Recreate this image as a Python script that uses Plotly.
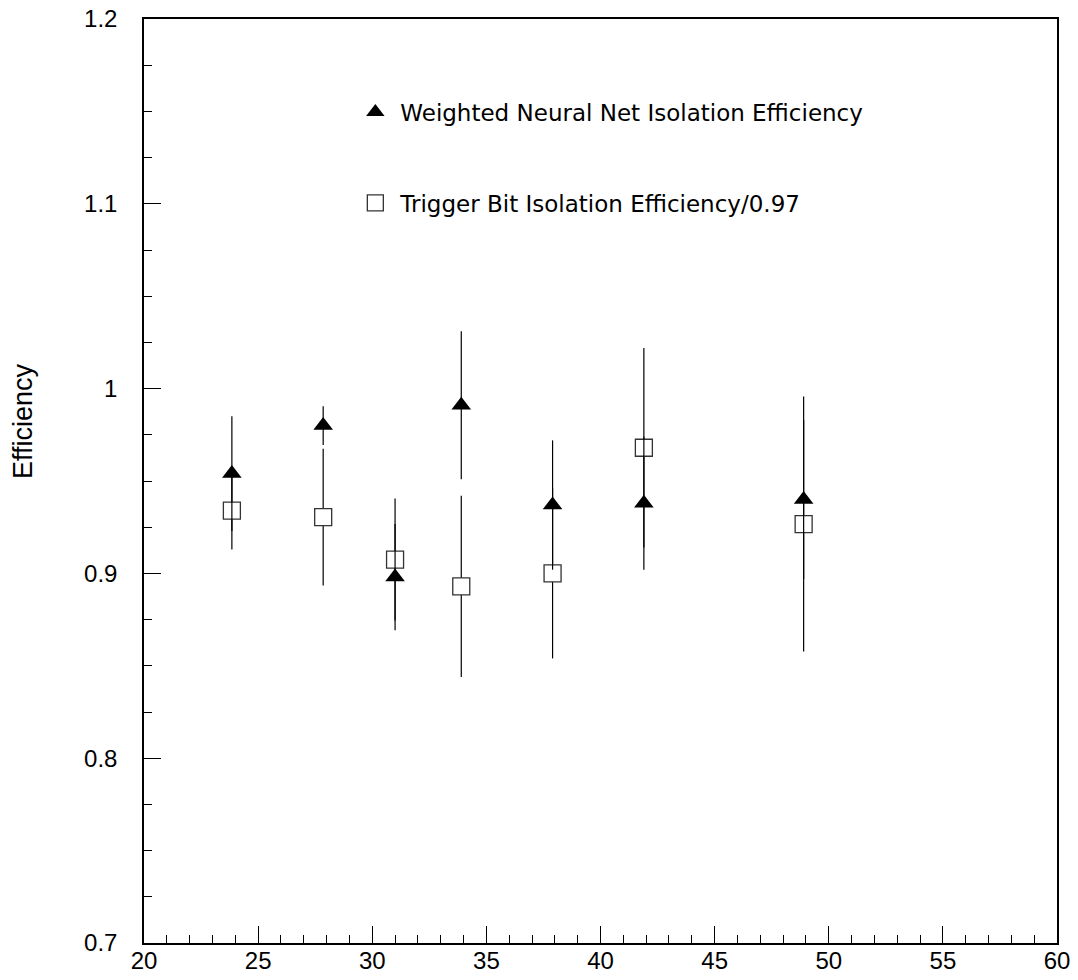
import plotly.graph_objects as go

# ---- data ----
pt = [23.85, 27.85, 31.0, 33.9, 37.9, 41.9, 48.9]

nn_eff = [0.954, 0.980, 0.898, 0.991, 0.937, 0.938, 0.940]
nn_err = [0.031, 0.0105, 0.0287, 0.040, 0.035, 0.036, 0.043]

trig_eff = [0.934, 0.9305, 0.9075, 0.893, 0.900, 0.968, 0.9267]
trig_err = [0.021, 0.037, 0.033, 0.049, 0.046, 0.054, 0.069]

nn_label = "Weighted Neural Net Isolation Efficiency"
trig_label = "Trigger Bit Isolation Efficiency/0.97"

x_tickvals = [20, 25, 30, 35, 40, 45, 50, 55, 60]
x_ticktext = ["20", "25", "30", "35", "40", "45", "50", "55", "60"]
y_tickvals = [0.7, 0.8, 0.9, 1.0, 1.1, 1.2]
y_ticktext = ["0.7", "0.8", "0.9", "1", "1.1", "1.2"]
y_title = "Efficiency"

fig = go.Figure()

# open squares (drawn first, white fill hides their own error line)
fig.add_trace(go.Scatter(
    x=pt, y=trig_eff, mode="markers", name=trig_label,
    legendgroup="b", legendrank=2,
    marker=dict(symbol="square", size=17, color="white",
                line=dict(color="#333333", width=1.3)),
    error_y=dict(type="data", array=trig_err, visible=True,
                 width=0, thickness=1.2, color="black"),
))

# filled triangles
fig.add_trace(go.Scatter(
    x=pt, y=nn_eff, mode="markers", name=nn_label,
    legendgroup="a", legendrank=1,
    marker=dict(symbol="triangle-up", size=17, color="black",
                line=dict(color="black", width=0)),
    error_y=dict(type="data", array=nn_err, visible=True,
                 width=0, thickness=1.2, color="black"),
))

tickfont = dict(family="Liberation Sans, Arial, sans-serif", size=24, color="black")

fig.update_xaxes(
    range=[20, 60], tickmode="array", tickvals=x_tickvals, ticktext=x_ticktext,
    ticks="inside", ticklen=17, tickwidth=1, tickcolor="black",
    minor=dict(dtick=1, tick0=20, ticks="inside", ticklen=8, tickwidth=1, tickcolor="black"),
    showline=True, linecolor="black", linewidth=1.5, mirror=True,
    showgrid=False, zeroline=False, tickfont=tickfont, automargin=False,
    ticklabelstandoff=-5,
)
fig.update_yaxes(
    range=[0.7, 1.2], tickmode="array", tickvals=y_tickvals, ticktext=y_ticktext,
    ticks="inside", ticklen=17, tickwidth=1, tickcolor="black",
    minor=dict(dtick=0.025, tick0=0.7, ticks="inside", ticklen=8, tickwidth=1, tickcolor="black"),
    showline=True, linecolor="black", linewidth=1.5, mirror=True,
    showgrid=False, zeroline=False, tickfont=tickfont, automargin=False,
    ticklabelstandoff=20,
)

fig.add_annotation(
    text=y_title, xref="paper", yref="paper", x=-0.1325, y=0.565,
    xanchor="center", yanchor="middle", textangle=-90, showarrow=False,
    font=dict(family="Liberation Sans, Arial, sans-serif", size=27, color="black"),
)

fig.update_layout(
    template="none",
    width=1078, height=980,
    margin=dict(l=144, r=21, t=19, b=37, autoexpand=False),
    paper_bgcolor="white", plot_bgcolor="white",
    showlegend=True,
    legend=dict(
        x=0.226, y=0.9225, xanchor="left", yanchor="top",
        bgcolor="rgba(0,0,0,0)", borderwidth=0,
        traceorder="grouped", tracegroupgap=58, itemwidth=40,
        font=dict(family="DejaVu Sans, sans-serif", size=23, color="black"),
    ),
)

fig.write_html("out.html")
